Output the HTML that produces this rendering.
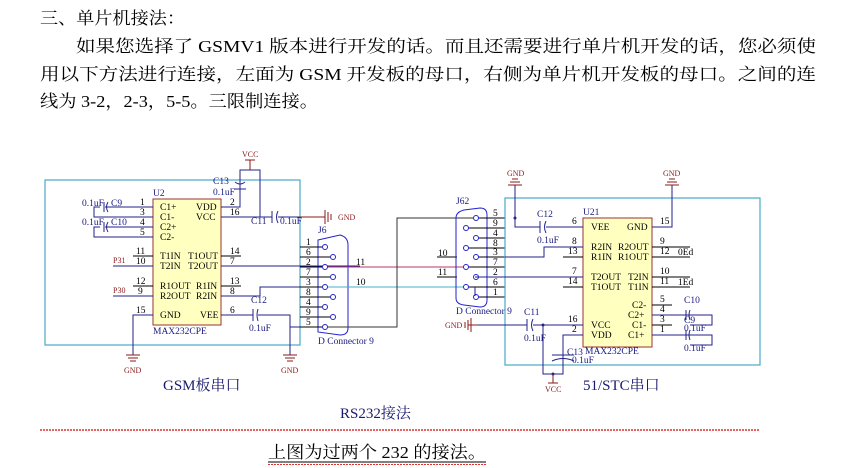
<!DOCTYPE html>
<html><head><meta charset="utf-8"><style>
html,body{margin:0;padding:0;background:#fff;width:866px;height:468px;overflow:hidden}
svg{display:block}
.t{font-family:"Liberation Serif","Noto Serif CJK SC",serif;font-size:17px;fill:#000}
.s{font-family:"Liberation Serif",serif;font-size:9.5px;fill:#000}
.b{font-family:"Liberation Serif",serif;font-size:9.5px;fill:#1a1a80}
.r{font-family:"Liberation Serif",serif;font-size:8px;fill:#8b1a1a}
.big{font-family:"Liberation Serif","Noto Serif CJK SC",serif;font-size:15px;fill:#1a1a70}
</style></head><body>
<svg width="866" height="468" viewBox="0 0 866 468" xmlns="http://www.w3.org/2000/svg">
<text class="t" x="40" y="24" textLength="145" lengthAdjust="spacingAndGlyphs">三、单片机接法：</text>
<text class="t" x="76" y="52" textLength="740" lengthAdjust="spacingAndGlyphs">如果您选择了 GSMV1 版本进行开发的话。而且还需要进行单片机开发的话，您必须使</text>
<text class="t" x="40" y="80" textLength="776" lengthAdjust="spacingAndGlyphs">用以下方法进行连接，左面为 GSM 开发板的母口，右侧为单片机开发板的母口。之间的连</text>
<text class="t" x="40" y="107" textLength="278" lengthAdjust="spacingAndGlyphs">线为 3-2，2-3，5-5。三限制连接。</text>

<!-- Left board -->
<rect x="45" y="180" width="255" height="165" fill="none" stroke="#4aa8c8" stroke-width="1.2"/>
<rect x="153" y="199" width="68" height="126" fill="#ffffc0" stroke="#993333"/>
<text class="b" x="153" y="196">U2</text>
<text class="b" x="153" y="334">MAX232CPE</text>
<g class="s">
<text x="160" y="210">C1+</text><text x="160" y="220">C1-</text><text x="160" y="230">C2+</text><text x="160" y="240">C2-</text>
<text x="160" y="259">T1IN</text><text x="160" y="269">T2IN</text><text x="160" y="289">R1OUT</text><text x="160" y="299">R2OUT</text><text x="160" y="318">GND</text>
<text x="196" y="210">VDD</text><text x="196" y="220">VCC</text><text x="188" y="259">T1OUT</text><text x="188" y="269">T2OUT</text><text x="196" y="289">R1IN</text><text x="196" y="299">R2IN</text><text x="200" y="318">VEE</text>
<text x="140" y="205">1</text><text x="140" y="215">3</text><text x="140" y="225">4</text><text x="140" y="235">5</text>
<text x="136" y="254">11</text><text x="136" y="264">10</text><text x="136" y="284">12</text><text x="138" y="294">9</text><text x="136" y="313">15</text>
<text x="230" y="205">2</text><text x="230" y="215">16</text><text x="230" y="254">14</text><text x="230" y="264">7</text><text x="230" y="284">13</text><text x="230" y="294">8</text><text x="230" y="313">6</text>
</g>
<g stroke="#000" stroke-width="1">
<line x1="133" y1="207" x2="153" y2="207"/><line x1="133" y1="217" x2="153" y2="217"/><line x1="133" y1="227" x2="153" y2="227"/><line x1="133" y1="237" x2="153" y2="237"/>
<line x1="133" y1="256" x2="153" y2="256"/><line x1="133" y1="286" x2="153" y2="286"/>
<line x1="221" y1="256" x2="241" y2="256"/><line x1="221" y1="286" x2="241" y2="286"/>
</g>
<g stroke="#22228a" stroke-width="1" fill="none">
<polyline points="153,207 105,207"/><polyline points="153,217 94,217 94,207 100,207"/>
<polyline points="153,227 105,227"/><polyline points="153,237 94,237 94,227 100,227"/>
<line x1="113" y1="266" x2="153" y2="266"/><line x1="113" y1="296" x2="153" y2="296"/>
<polyline points="153,315 133,315 133,355"/>
<polyline points="221,207 240,207 240,170 260,170 260,217"/>
<line x1="221" y1="217" x2="272" y2="217"/><line x1="278" y1="217" x2="300" y2="217"/>
<line x1="221" y1="266" x2="360" y2="266"/>
<polyline points="221,296 260,296 260,287 320,287"/>
<line x1="221" y1="315" x2="253" y2="315"/><polyline points="258,315 290,315 290,355"/>
<line x1="290" y1="327" x2="320" y2="327"/>
<line x1="104" y1="202" x2="104" y2="212"/><path d="M108,202 Q105,207 108,212"/>
<line x1="104" y1="222" x2="104" y2="232"/><path d="M108,222 Q105,227 108,232"/>
<line x1="272" y1="211" x2="272" y2="223"/><path d="M278,211 Q275,217 278,223"/>
<line x1="253" y1="309" x2="253" y2="321"/><path d="M258,309 Q256,315 258,321"/>
<path d="M235,182 Q240,186 245,182"/><line x1="234" y1="189" x2="246" y2="189"/>
</g>
<g class="b"><text x="82" y="206">0.1uF</text><text x="111" y="206">C9</text><text x="82" y="225">0.1uF</text><text x="111" y="225">C10</text>
<text x="213" y="184">C13</text><text x="213" y="195">0.1uF</text><text x="251" y="224">C11</text><text x="280" y="224">0.1uF</text>
<text x="251" y="303">C12</text><text x="249" y="331">0.1uF</text></g>
<g class="r"><text x="113" y="263">P31</text><text x="113" y="293">P30</text><text x="338" y="220">GND</text>
<text x="242" y="157">VCC</text><text x="124" y="373">GND</text><text x="281" y="373">GND</text></g>
<g stroke="#8b1a1a" fill="none"><line x1="250" y1="160" x2="250" y2="170"/><line x1="245" y1="160" x2="255" y2="160"/>
<line x1="300" y1="217" x2="325" y2="217"/><line x1="325" y1="210" x2="325" y2="224"/><line x1="328" y1="212" x2="328" y2="222"/><line x1="331" y1="214" x2="331" y2="220"/>
<line x1="126" y1="355" x2="140" y2="355"/><line x1="128" y1="358" x2="138" y2="358"/><line x1="130" y1="361" x2="136" y2="361"/>
<line x1="283" y1="355" x2="297" y2="355"/><line x1="285" y1="358" x2="295" y2="358"/><line x1="287" y1="361" x2="293" y2="361"/></g>

<!-- J6 -->
<text class="b" x="318" y="233">J6</text>
<path d="M318,240 L340,235 Q348,237 348,245 L348,328 Q348,335 340,335 L318,332 Z" fill="none" stroke="#2222cc"/>
<g stroke="#000"><line x1="300" y1="247" x2="322" y2="247"/><line x1="300" y1="257" x2="330" y2="257"/><line x1="300" y1="267" x2="322" y2="267"/><line x1="300" y1="277" x2="330" y2="277"/><line x1="300" y1="287" x2="322" y2="287"/><line x1="300" y1="297" x2="330" y2="297"/><line x1="300" y1="307" x2="322" y2="307"/><line x1="300" y1="317" x2="330" y2="317"/><line x1="300" y1="327" x2="322" y2="327"/></g>
<g fill="#fff" stroke="#2222cc"><circle cx="325" cy="247" r="2.5"/><circle cx="333" cy="257" r="2.5"/><circle cx="325" cy="267" r="2.5"/><circle cx="333" cy="277" r="2.5"/><circle cx="325" cy="287" r="2.5"/><circle cx="333" cy="297" r="2.5"/><circle cx="325" cy="307" r="2.5"/><circle cx="333" cy="317" r="2.5"/><circle cx="325" cy="327" r="2.5"/></g>
<g class="s"><text x="306" y="245">1</text><text x="306" y="255">6</text><text x="306" y="265">2</text><text x="306" y="275">7</text><text x="306" y="285">3</text><text x="306" y="295">8</text><text x="306" y="305">4</text><text x="306" y="315">9</text><text x="306" y="325">5</text>
<text x="356" y="265">11</text><text x="356" y="285">10</text><text x="438" y="256">10</text><text x="438" y="275">11</text></g>
<text class="b" x="318" y="344">D Connector 9</text>
<line x1="328" y1="267" x2="467" y2="267" stroke="#c0306a"/>
<line x1="328" y1="287" x2="467" y2="287" stroke="#40b0d0"/>
<polyline points="328,327 397,327 397,218 505,218" fill="none" stroke="#333"/>
<line x1="437" y1="257" x2="457" y2="257" stroke="#000"/><line x1="437" y1="277" x2="457" y2="277" stroke="#000"/>

<!-- J62 -->
<text class="b" x="456" y="204">J62</text>
<path d="M456,218 Q456,212 464,210 L480,208 Q487,208 487,215 L487,300 Q487,307 480,307 L464,305 Q456,304 456,298 Z" fill="none" stroke="#2222cc"/>
<g stroke="#000"><line x1="478" y1="218" x2="505" y2="218"/><line x1="468" y1="228" x2="505" y2="228"/><line x1="478" y1="238" x2="505" y2="238"/><line x1="468" y1="248" x2="505" y2="248"/><line x1="478" y1="257" x2="505" y2="257"/><line x1="468" y1="267" x2="505" y2="267"/><line x1="478" y1="277" x2="505" y2="277"/><line x1="468" y1="287" x2="505" y2="287"/><line x1="478" y1="297" x2="505" y2="297"/></g>
<g fill="#fff" stroke="#2222cc"><circle cx="476" cy="218" r="2.5"/><circle cx="466" cy="228" r="2.5"/><circle cx="476" cy="238" r="2.5"/><circle cx="466" cy="248" r="2.5"/><circle cx="476" cy="257" r="2.5"/><circle cx="466" cy="267" r="2.5"/><circle cx="476" cy="277" r="2.5"/><circle cx="466" cy="287" r="2.5"/><circle cx="476" cy="297" r="2.5"/></g>
<g class="s"><text x="493" y="216">5</text><text x="493" y="226">9</text><text x="493" y="236">4</text><text x="493" y="246">8</text><text x="493" y="255">3</text><text x="493" y="265">7</text><text x="493" y="275">2</text><text x="493" y="285">6</text><text x="493" y="295">1</text></g>
<text class="b" x="456" y="314">D Connector 9</text>

<!-- Right board -->
<rect x="505" y="198" width="255" height="167" fill="none" stroke="#4aa8c8" stroke-width="1.2"/>
<rect x="583" y="218" width="69" height="129" fill="#ffffc0" stroke="#993333"/>
<text class="b" x="583" y="215">U21</text><text class="b" x="585" y="354">MAX232CPE</text>
<g class="s"><text x="591" y="230">VEE</text><text x="627" y="230">GND</text><text x="591" y="250">R2IN</text><text x="618" y="250">R2OUT</text><text x="591" y="260">R1IN</text><text x="618" y="260">R1OUT</text>
<text x="591" y="280">T2OUT</text><text x="628" y="280">T2IN</text><text x="591" y="290">T1OUT</text><text x="628" y="290">T1IN</text>
<text x="632" y="308">C2-</text><text x="628" y="318">C2+</text><text x="591" y="328">VCC</text><text x="632" y="328">C1-</text><text x="591" y="338">VDD</text><text x="628" y="338">C1+</text>
<text x="572" y="224">6</text><text x="572" y="244">8</text><text x="568" y="254">13</text><text x="572" y="274">7</text><text x="568" y="284">14</text><text x="568" y="322">16</text><text x="572" y="332">2</text>
<text x="660" y="224">15</text><text x="660" y="244">9</text><text x="660" y="254">12</text><text x="660" y="274">10</text><text x="660" y="284">11</text><text x="660" y="302">5</text><text x="660" y="312">4</text><text x="660" y="322">3</text><text x="660" y="332">1</text></g>
<g stroke="#000"><line x1="563" y1="257" x2="583" y2="257"/><line x1="563" y1="287" x2="583" y2="287"/>
<line x1="652" y1="247" x2="690" y2="247"/><line x1="652" y1="257" x2="690" y2="257"/><line x1="652" y1="277" x2="690" y2="277"/><line x1="652" y1="287" x2="690" y2="287"/>
<line x1="652" y1="305" x2="672" y2="305"/><line x1="652" y1="325" x2="672" y2="325"/></g>
<g class="s"><text x="678" y="255">0Ed</text><text x="678" y="285">1Ed</text></g>
<g stroke="#22228a" fill="none">
<polyline points="515,185 515,227 540,227"/><line x1="546" y1="227" x2="583" y2="227"/>
<polyline points="652,227 672,227 672,185"/>
<polyline points="505,257 544,257 544,247 583,247"/>
<line x1="475" y1="277" x2="583" y2="277"/>
<polyline points="475,287 475,296"/>
<polyline points="478,325 527,325"/><line x1="533" y1="325" x2="583" y2="325"/>
<polyline points="543,325 543,374 563,374 563,335 583,335"/>
<polyline points="652,315 712,315 712,325 690,325"/><polyline points="652,335 712,335 712,345 690,345"/>
<line x1="540" y1="221" x2="540" y2="233"/><path d="M546,221 Q543,227 546,233"/>
<line x1="527" y1="319" x2="527" y2="331"/><path d="M533,319 Q530,325 533,331"/>
<line x1="686" y1="310" x2="686" y2="320"/><path d="M690,310 Q688,315 690,320"/>
<line x1="686" y1="330" x2="686" y2="340"/><path d="M690,330 Q688,335 690,340"/>
<line x1="552" y1="355" x2="574" y2="355"/><path d="M552,361 Q563,356 574,361"/>
</g>
<circle cx="515" cy="218" r="1.5" fill="#22228a"/><circle cx="543" cy="325" r="1.5" fill="#22228a"/><circle cx="553" cy="374" r="1.5" fill="#22228a"/>
<g class="b"><text x="537" y="217">C12</text><text x="537" y="243">0.1uF</text><text x="524" y="315">C11</text><text x="524" y="341">0.1uF</text>
<text x="567" y="355">C13</text><text x="572" y="363">0.1uF</text><text x="684" y="303">C10</text><text x="684" y="323">C9</text><text x="684" y="351">0.1uF</text><text x="684" y="331">0.1uF</text></g>
<g class="r"><text x="507" y="176">GND</text><text x="663" y="176">GND</text><text x="445" y="328">GND</text><text x="545" y="392">VCC</text></g>
<g stroke="#8b1a1a"><line x1="508" y1="185" x2="522" y2="185"/><line x1="510" y1="182" x2="520" y2="182"/><line x1="512" y1="179" x2="518" y2="179"/>
<line x1="665" y1="185" x2="679" y2="185"/><line x1="667" y1="182" x2="677" y2="182"/><line x1="669" y1="179" x2="675" y2="179"/>
<line x1="468" y1="325" x2="478" y2="325"/><line x1="471" y1="318" x2="471" y2="332"/><line x1="468" y1="320" x2="468" y2="330"/><line x1="465" y1="322" x2="465" y2="328"/>
<line x1="553" y1="374" x2="553" y2="383"/><line x1="548" y1="383" x2="558" y2="383"/></g>

<text class="big" x="163" y="390">GSM板串口</text>
<text class="big" x="583" y="390">51/STC串口</text>
<text class="big" x="340" y="418">RS232接法</text>
<line x1="40" y1="430" x2="760" y2="430" stroke="#e03030" stroke-width="1.5" stroke-dasharray="2,1"/>
<text class="t" x="268" y="458" textLength="218" lengthAdjust="spacingAndGlyphs">上图为过两个 232 的接法。</text>
<line x1="268" y1="462" x2="486" y2="462" stroke="#000"/>
<line x1="268" y1="464.5" x2="486" y2="464.5" stroke="#e03030" stroke-dasharray="2,1"/>
</svg>
</body></html>
